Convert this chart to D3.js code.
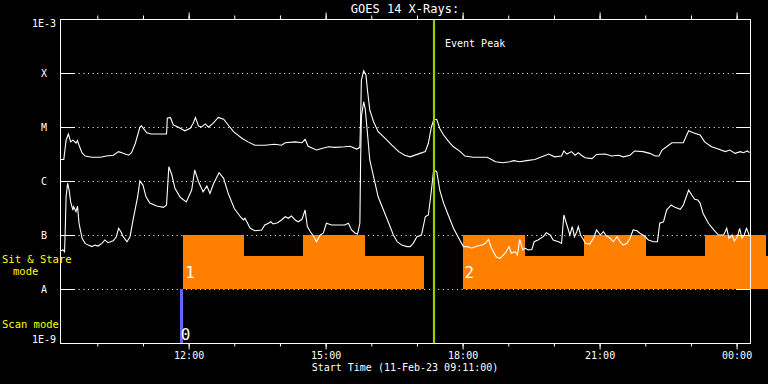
<!DOCTYPE html>
<html><head><meta charset="utf-8">
<script src="https://cdn.jsdelivr.net/npm/d3@7"></script>
<style>
html,body{margin:0;padding:0;background:#000;}
svg{display:block;}
text{font-family:"DejaVu Sans Mono",monospace;}
</style></head>
<body>
<svg id="chart" width="768" height="384"></svg>
<script>
// ---------- DATA ----------
const startTime = new Date(2023, 1, 11, 9, 11, 0);   // Start Time (11-Feb-23 09:11:00)
const spanMinutes = 906.6;                          // length of the plotted window
const title = "GOES 14 X-Rays:";
const xLabel = "Start Time (11-Feb-23 09:11:00)";
const yTickValues = [1e-9, 1e-8, 1e-7, 1e-6, 1e-5, 1e-4, 1e-3];
const yTickLabels = ["1E-9", "A", "B", "C", "M", "X", "1E-3"];
const gridLevels = [1e-8, 1e-7, 1e-6, 1e-5, 1e-4];

// [minutes after start, flux W/m^2] long channel (1-8 A)
const longChannel = [[0,2.5e-6],[5,2.5e-6],[8,5.7e-6],[11,7.4e-6],[14,5.3e-6],[17,5.7e-6],[21,5.05e-6],[23,5.6e-6],[25,4.6e-6],[29,3.3e-6],[33,2.9e-6],[42,2.75e-6],[53,2.75e-6],[61,2.9e-6],[70,3.0e-6],[77,3.5e-6],[83,3.25e-6],[90,3.0e-6],[94,3.35e-6],[99,5.0e-6],[105,1.0e-5],[107,1.05e-5],[114,7.8e-6],[120,7.4e-6],[131,7.4e-6],[140,7.4e-6],[141,1.45e-5],[145,1.5e-5],[149,1.09e-5],[155,1.0e-5],[164,8.5e-6],[171,9.5e-6],[175,1.17e-5],[178,1.5e-5],[182,1.04e-5],[186,1.0e-5],[191,1.14e-5],[195,9.9e-6],[201,1.17e-5],[208,1.5e-5],[215,1.39e-5],[221,1.09e-5],[228,8.2e-6],[230,7.8e-6],[239,6.2e-6],[247,5.3e-6],[256,4.6e-6],[269,4.6e-6],[282,4.8e-6],[291,4.6e-6],[296,5.1e-6],[309,5.3e-6],[318,5.1e-6],[322,5.9e-6],[326,4.4e-6],[337,3.75e-6],[344,4.0e-6],[353,4.3e-6],[361,4.2e-6],[374,4.3e-6],[381,4.4e-6],[390,3.9e-6],[394,4.2e-6],[395,1.45e-5],[396,7.4e-5],[399,1.1e-4],[402,9.2e-5],[404,4.8e-5],[407,2.07e-5],[412,1.25e-5],[418,8.2e-6],[427,6.2e-6],[436,4.6e-6],[445,3.5e-6],[453,3.0e-6],[460,2.8e-6],[473,3.25e-6],[480,3.5e-6],[484,5.0e-6],[488,1.0e-5],[491,1.35e-5],[495,1.39e-5],[499,9.4e-6],[504,7.1e-6],[511,5.3e-6],[517,4.3e-6],[526,3.5e-6],[532,2.9e-6],[543,2.75e-6],[561,2.75e-6],[567,2.5e-6],[572,2.28e-6],[582,2.18e-6],[591,2.28e-6],[596,2.38e-6],[604,2.28e-6],[613,2.38e-6],[624,2.5e-6],[633,2.8e-6],[642,3.16e-6],[650,2.8e-6],[659,2.9e-6],[662,3.6e-6],[666,3.16e-6],[672,3.5e-6],[677,3.0e-6],[681,3.35e-6],[685,3.0e-6],[690,2.7e-6],[699,2.6e-6],[705,3.1e-6],[716,3.16e-6],[725,2.9e-6],[734,3.0e-6],[740,2.8e-6],[749,3.0e-6],[755,3.6e-6],[766,3.5e-6],[775,3.25e-6],[782,2.9e-6],[787,2.9e-6],[791,3.75e-6],[797,4.3e-6],[804,5.1e-6],[819,5.1e-6],[826,8.5e-6],[832,7.8e-6],[841,7.1e-6],[847,5.3e-6],[856,4.3e-6],[865,3.9e-6],[874,3.5e-6],[880,3.75e-6],[887,3.25e-6],[894,3.5e-6],[898,3.35e-6],[903,3.6e-6],[906,3.35e-6]];

// [minutes after start, flux W/m^2] short channel (0.5-4 A)
const shortChannel = [[0,5.05e-8],[4,5.3e-8],[6,4.9e-8],[7,1.43e-7],[8,5.1e-7],[10,9.1e-7],[12,6.8e-7],[14,4.1e-7],[17,2.9e-7],[18,3.35e-7],[21,2.7e-7],[23,3.44e-7],[25,1.65e-7],[29,8.7e-8],[33,7.0e-8],[37,6.5e-8],[42,6.1e-8],[46,6.5e-8],[50,6.25e-8],[55,7.0e-8],[59,8.1e-8],[63,7.2e-8],[70,7.8e-8],[74,9.3e-8],[77,1.33e-7],[80,1.15e-7],[83,9.3e-8],[88,7.5e-8],[92,9.3e-8],[96,1.9e-7],[102,5.1e-7],[105,1.0e-6],[109,8.4e-7],[113,5.1e-7],[118,3.9e-7],[127,3.44e-7],[136,3.25e-7],[140,3.6e-7],[143,1.84e-6],[147,1.29e-6],[151,7.3e-7],[158,5.0e-7],[166,4.1e-7],[173,6.8e-7],[177,1.6e-6],[182,9.7e-7],[188,6.3e-7],[193,8.1e-7],[197,5.9e-7],[202,9.1e-7],[209,1.42e-6],[215,1.12e-6],[221,5.9e-7],[229,3.1e-7],[237,2.18e-7],[241,1.9e-7],[243,2.04e-7],[250,1.33e-7],[256,1.2e-7],[265,1.24e-7],[269,1.53e-7],[274,1.65e-7],[277,1.76e-7],[280,1.6e-7],[286,1.69e-7],[291,1.9e-7],[296,2.18e-7],[300,2.04e-7],[304,2.25e-7],[309,1.9e-7],[313,1.76e-7],[318,1.95e-7],[322,2.9e-7],[325,1.43e-7],[329,1.15e-7],[333,9.6e-8],[337,7.5e-8],[342,1.0e-7],[346,1.08e-7],[350,1.65e-7],[357,1.53e-7],[366,1.53e-7],[374,1.53e-7],[379,1.65e-7],[383,1.24e-7],[388,1.08e-7],[391,1.04e-7],[394,1.65e-7],[395,2.45e-6],[396,1.55e-5],[399,2.94e-5],[401,2.2e-5],[404,7.6e-6],[407,2.45e-6],[412,1.2e-6],[418,5.1e-7],[425,2.9e-7],[432,1.65e-7],[438,1.0e-7],[443,7.5e-8],[449,6.5e-8],[456,6.1e-8],[460,6.1e-8],[464,7.0e-8],[469,9.3e-8],[475,1.0e-7],[480,2.18e-7],[484,2.35e-7],[487,5.1e-7],[490,1.2e-6],[491,1.6e-6],[495,1.49e-6],[499,6.8e-7],[504,3.9e-7],[511,2.18e-7],[517,1.33e-7],[524,8.7e-8],[530,6.1e-8],[535,6.1e-8],[541,5.7e-8],[548,6.25e-8],[554,6.5e-8],[559,7.0e-8],[563,8.3e-8],[567,5.7e-8],[573,3.96e-8],[578,3.7e-8],[585,4.6e-8],[590,6.1e-8],[593,4.6e-8],[598,4.9e-8],[601,4.26e-8],[604,8.3e-8],[608,5.3e-8],[611,5.7e-8],[615,5.3e-8],[620,5.4e-8],[623,7.5e-8],[628,8.1e-8],[635,9.3e-8],[639,1.1e-7],[644,1.0e-7],[648,8.1e-8],[655,7.5e-8],[659,7.0e-8],[662,2.35e-7],[666,1.53e-7],[670,1.0e-7],[673,1.43e-7],[676,9.3e-8],[679,1.15e-7],[681,1.43e-7],[684,1.0e-7],[688,8.1e-8],[690,7.0e-8],[696,6.8e-8],[701,8.7e-8],[705,1.24e-7],[710,1.0e-7],[714,1.15e-7],[718,9.6e-8],[723,8.7e-8],[727,7.5e-8],[732,9.3e-8],[736,7.5e-8],[740,6.5e-8],[745,7.0e-8],[749,8.7e-8],[753,1.24e-7],[758,1.2e-7],[762,1.08e-7],[768,9.6e-8],[773,8.1e-8],[780,7.5e-8],[785,7.5e-8],[788,1.65e-7],[793,1.76e-7],[797,2.9e-7],[803,3.6e-7],[808,3.25e-7],[815,3.0e-7],[819,3.6e-7],[826,6.8e-7],[830,5.5e-7],[834,4.6e-7],[838,4.44e-7],[841,3.9e-7],[845,2.5e-7],[852,1.65e-7],[859,1.24e-7],[865,1.0e-7],[872,1.0e-7],[876,1.33e-7],[879,8.7e-8],[883,1.0e-7],[886,7.8e-8],[890,9.3e-8],[893,1.33e-7],[896,8.7e-8],[899,1.0e-7],[902,1.33e-7],[906,9.6e-8]];

// Sit & Stare blocks: [start min, end min, top level]
const stareBlocks = [[162,242,1e-7],[242,319,4.1e-8],[319,401,1e-7],[401,478,4.1e-8],
                     [529,611,1e-7],[611,688,4.1e-8],[688,770,1e-7],[770,847,4.1e-8],[847,928,1e-7],[928,990,4.1e-8]];
const stareLabels = [[162,"1"],[529,"2"]];
// Scan mode blocks: [start min, end min, label]
const scanBlocks = [[158,161.5,"0"]];
const eventPeakMinute = 492;

// ---------- CHART ----------
const svg = d3.select("#chart");
const W = 768, H = 384;
const m = {left:60, right:750, top:19, bottom:343};
const tAt = mins => new Date(+startTime + mins*60000);

const x = d3.scaleTime().domain([startTime, tAt(spanMinutes)]).range([m.left, m.right]);
const y = d3.scaleLog().domain([1e-9, 1e-3]).range([m.bottom, m.top]);

svg.append("rect").attr("width",W).attr("height",H).attr("fill","#000");

// dotted gridlines
svg.append("g").selectAll("line").data(gridLevels).join("line")
  .attr("x1", m.left).attr("x2", m.right)
  .attr("y1", d=>Math.round(y(d))+0.5).attr("y2", d=>Math.round(y(d))+0.5)
  .attr("stroke","#fff").attr("stroke-width",1).attr("stroke-dasharray","1 3.67");

// Sit & Stare blocks
svg.append("g").attr("shape-rendering","crispEdges")
  .selectAll("rect").data(stareBlocks).join("rect")
  .attr("x", d=>Math.round(x(tAt(d[0]))))
  .attr("width", d=>Math.round(x(tAt(d[1])))-Math.round(x(tAt(d[0]))))
  .attr("y", d=>Math.round(y(d[2])))
  .attr("height", d=>Math.round(y(1e-8))-Math.round(y(d[2])))
  .attr("fill","#ff8000");

// Scan blocks
svg.append("g").attr("shape-rendering","crispEdges")
  .selectAll("rect").data(scanBlocks).join("rect")
  .attr("x", d=>Math.round(x(tAt(d[0]))))
  .attr("width", d=>Math.round(x(tAt(d[1])))-Math.round(x(tAt(d[0]))))
  .attr("y", Math.round(y(1e-8)))
  .attr("height", Math.round(y(1e-9))-Math.round(y(1e-8)))
  .attr("fill","#6464ff");

// curves
const line = d3.line().x(d=>x(tAt(d[0]))).y(d=>y(d[1]));
[longChannel, shortChannel].forEach(s=>{
  svg.append("path").datum(s).attr("d", line)
    .attr("fill","none").attr("stroke","#fff").attr("stroke-width",1.1);
});

// block labels
svg.append("g").selectAll("text").data(stareLabels).join("text")
  .attr("x", d=>x(tAt(d[0]))+2).attr("y", y(1e-8)-11)
  .attr("fill","#fff").attr("font-size",16).text(d=>d[1]);
svg.append("g").selectAll("text").data(scanBlocks).join("text")
  .attr("x", d=>x(tAt(d[0]))+0.5).attr("y", y(1e-9)-3)
  .attr("fill","#fff").attr("font-size",16).text(d=>d[2]);

// event peak
const ex = Math.round(x(tAt(eventPeakMinute)));
svg.append("line").attr("x1",ex).attr("x2",ex).attr("y1",m.top).attr("y2",m.bottom)
  .attr("stroke","#99cc00").attr("stroke-width",2.2);
svg.append("text").attr("x",ex+11).attr("y",47).attr("fill","#fff")
  .attr("font-size",10).text("Event Peak");

// x axes (bottom with labels, top without)
function timeAxis(gen, yPos, labels){
  const gMin = svg.append("g").attr("transform",`translate(0,${yPos})`)
    .call(gen(x).ticks(d3.timeHour.every(1)).tickSize(3.5).tickFormat(""));
  const gMaj = svg.append("g").attr("transform",`translate(0,${yPos})`)
    .call(gen(x).ticks(d3.timeHour.every(3)).tickSize(6.5)
      .tickFormat(labels ? d3.timeFormat("%H:%M") : ""));
  [gMin,gMaj].forEach(g=>{
    g.select(".domain").remove();
    g.selectAll("line").attr("stroke","#fff");
    g.selectAll("text").attr("fill","#fff").attr("font-size",10)
      .attr("font-family","DejaVu Sans Mono").attr("dy",null).attr("y",16);
  });
}
timeAxis(d3.axisBottom, m.bottom, true);
timeAxis(d3.axisTop, m.top, false);

// y major ticks on both sides
const lvl = yTickValues.slice(1,-1);
svg.append("g").selectAll("line").data(lvl).join("line")
  .attr("x1", m.left).attr("x2", m.left+14)
  .attr("y1", d=>Math.round(y(d))+0.5).attr("y2", d=>Math.round(y(d))+0.5).attr("stroke","#fff");
svg.append("g").selectAll("line").data(lvl).join("line")
  .attr("x1", m.right-14).attr("x2", m.right)
  .attr("y1", d=>Math.round(y(d))+0.5).attr("y2", d=>Math.round(y(d))+0.5).attr("stroke","#fff");

// y labels
svg.append("g").selectAll("text").data(yTickValues).join("text")
  .attr("x", (d,i)=> (i===0||i===yTickValues.length-1) ? 56 : 44)
  .attr("text-anchor", (d,i)=> (i===0||i===yTickValues.length-1) ? "end" : "middle")
  .attr("y", (d,i)=> i===0 ? y(d) : i===yTickValues.length-1 ? y(d)+8 : y(d)+4)
  .attr("fill","#fff").attr("font-size",10).text((d,i)=>yTickLabels[i]);

// frame
svg.append("rect").attr("x",m.left+0.5).attr("y",m.top+0.5)
  .attr("width",m.right-m.left).attr("height",m.bottom-m.top)
  .attr("fill","none").attr("stroke","#fff").attr("stroke-width",1);

// titles
svg.append("text").attr("x",(m.left+m.right)/2).attr("y",13).attr("text-anchor","middle")
  .attr("fill","#fff").attr("font-size",12).text(title);
svg.append("text").attr("x",(m.left+m.right)/2).attr("y",371).attr("text-anchor","middle")
  .attr("fill","#fff").attr("font-size",10).text(xLabel);

// mode labels
const yl = svg.append("g").attr("fill","#ffff00").attr("font-size",10.5);
yl.append("text").attr("x",2).attr("y",263).text("Sit & Stare");
yl.append("text").attr("x",13).attr("y",275).text("mode");
yl.append("text").attr("x",2).attr("y",328).text("Scan mode");
</script>
</body></html>
